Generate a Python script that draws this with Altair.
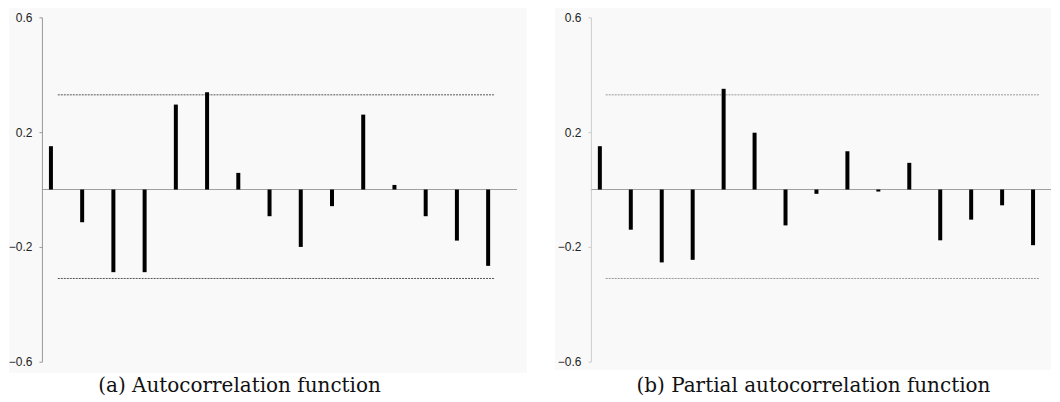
import altair as alt
import pandas as pd

lags = list(range(1, 16))
acf = [0.151, -0.114, -0.288, -0.288, 0.296, 0.339, 0.058, -0.093, -0.200,
       -0.058, 0.261, 0.016, -0.093, -0.178, -0.266]
pacf = [0.151, -0.140, -0.254, -0.245, 0.351, 0.198, -0.125, -0.015, 0.133,
        -0.007, 0.093, -0.177, -0.105, -0.055, -0.194]
upper_bound = 0.33
lower_bound = -0.31
y_ticks = [-0.6, -0.2, 0.2, 0.6]
captions = ["(a) Autocorrelation function", "(b) Partial autocorrelation function"]

H = 345
BG = "#f9f9f9"


def panel(values, caption, width, xdom, dash_range, bg_box, cap_x,
          axis_color, dash_color):
    df = pd.DataFrame({"lag": lags, "value": values})
    xs = alt.Scale(domain=xdom, nice=False, zero=False, padding=0)
    ys = alt.Scale(domain=[-0.6, 0.6], nice=False, padding=0)

    bg = alt.Chart(alt.Data(values=[{}])).mark_rect(color=BG).encode(
        x=alt.value(bg_box[0]), x2=alt.value(bg_box[1]),
        y=alt.value(bg_box[2]), y2=alt.value(bg_box[3]))

    zero = alt.Chart(alt.Data(values=[{"v": 0}])).mark_rule(
        color="#a0a0a0", strokeWidth=1).encode(
        y=alt.Y("v:Q", scale=ys, axis=alt.Axis(
            values=y_ticks, format=".1f", title=None, grid=False,
            labelFont="Liberation Sans", labelFontSize=12, labelColor="#222",
            tickSize=3, tickColor=axis_color, domainColor=axis_color,
            labelPadding=7, zindex=1)),
        x=alt.value(0), x2=alt.value(width))

    bounds = pd.DataFrame({"b": [upper_bound, lower_bound],
                           "x0": [dash_range[0]] * 2, "x1": [dash_range[1]] * 2})
    dash = alt.Chart(bounds).mark_rule(
        color=dash_color, strokeWidth=1, strokeDash=[2, 1]).encode(
        y=alt.Y("b:Q", scale=ys),
        x=alt.X("x0:Q", scale=xs, axis=None), x2="x1:Q")

    bars = alt.Chart(df).mark_bar(color="black", size=4).encode(
        x=alt.X("lag:Q", scale=xs, axis=None),
        y=alt.Y("value:Q", scale=ys), y2=alt.datum(0))

    cap = alt.Chart(alt.Data(values=[{"t": caption}])).mark_text(
        font="DejaVu Serif", fontSize=20, color="#111",
        baseline="middle", align="center").encode(
        text="t:N", x=alt.value(cap_x), y=alt.value(369))

    return alt.layer(bg, zero, dash, bars, cap).properties(width=width, height=H)


left = panel(acf, captions[0], 476, [0.712, 15.925], [1.22, 15.22],
             [-33, 486, -9, 356], 198, "#999999", "#555555")
right = panel(pacf, captions[1], 461, [0.71, 15.58], [1.19, 15.19],
              [-36, 461, -9, 353], 223, "#cccccc", "#999999")

chart = alt.hconcat(left, right, spacing=28).properties(
    padding=0, background="white"
).configure_view(stroke=None).resolve_scale(y="independent", x="independent")

chart.save("out.html", embed_options={"renderer": "svg", "actions": False})
